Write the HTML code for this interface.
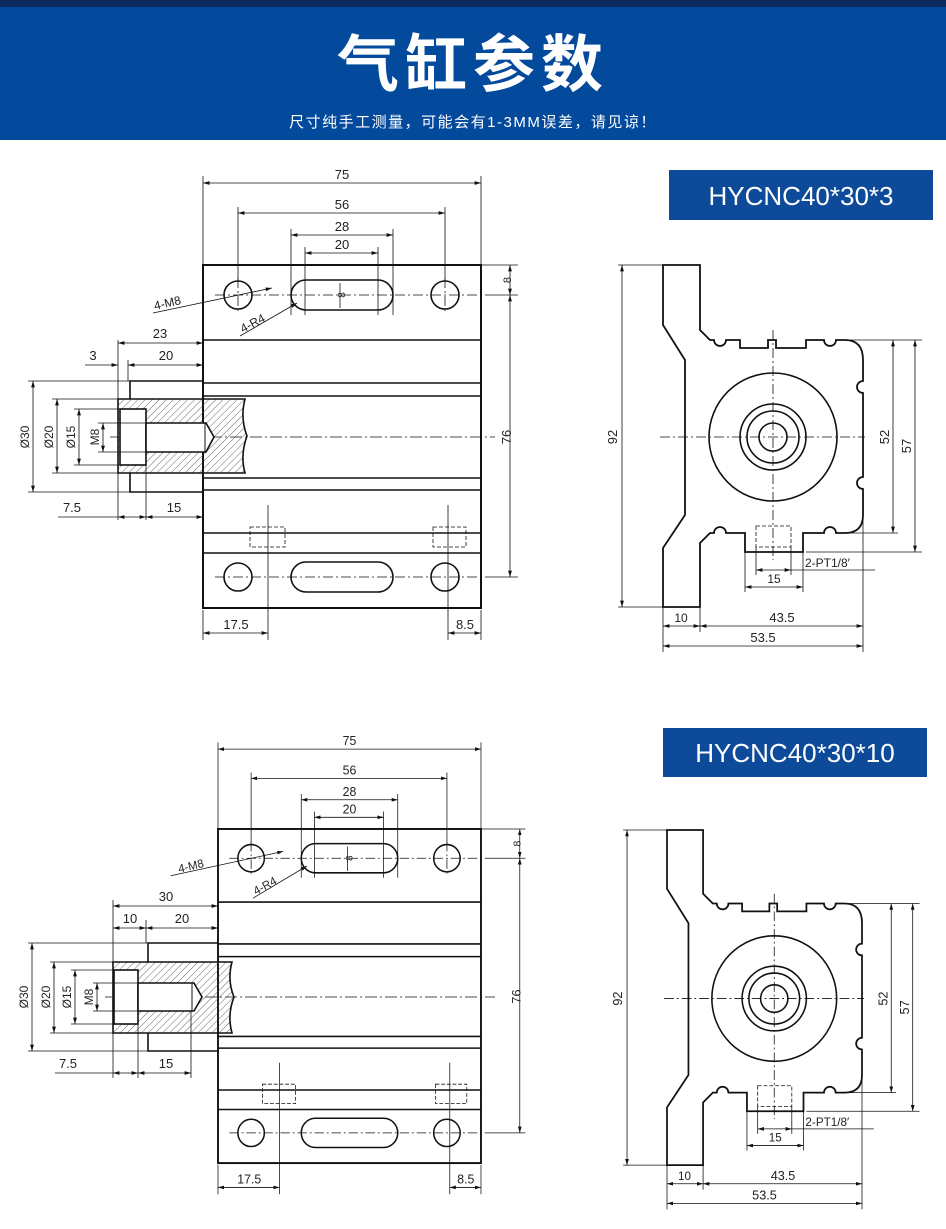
<!DOCTYPE html>
<html><head><meta charset="utf-8"><style>
html,body{margin:0;padding:0;background:#fff;}
body{width:946px;height:1229px;position:relative;overflow:hidden;font-family:"Liberation Sans","Noto Sans CJK SC",sans-serif;}
.hdr{position:absolute;left:0;top:0;width:946px;height:140px;background:#03499c;}
.hdr .stripe{position:absolute;left:0;top:0;width:946px;height:7px;background:#0b2a5e;}
.title{position:absolute;left:0;width:946px;top:14px;text-align:center;color:#fff;font-size:62px;font-weight:bold;letter-spacing:6px;font-family:"Noto Sans CJK SC","WenQuanYi Zen Hei",sans-serif;line-height:90px;}
.sub{position:absolute;left:0;width:946px;top:111px;text-align:center;color:#fff;font-size:15px;letter-spacing:1.5px;font-family:"Liberation Sans","Noto Sans CJK SC",sans-serif;}
.lbl{position:absolute;background:#0d4a9a;color:#fff;font-size:26px;text-align:center;font-family:"Liberation Sans",sans-serif;}
svg{position:absolute;left:0;top:0;}
</style></head><body>
<div class="hdr"><div class="stripe"></div>
<div class="title">气缸参数</div>
<div class="sub">尺寸纯手工测量，可能会有1-3MM误差，请见谅！</div></div>
<div class="lbl" style="left:669px;top:170px;width:264px;height:50px;line-height:52px;">HYCNC40*30*3</div>
<div class="lbl" style="left:663px;top:728px;width:264px;height:49px;line-height:51px;">HYCNC40*30*10</div>

<svg width="946" height="1229" viewBox="0 0 946 1229" font-family="Liberation Sans, sans-serif" font-size="13" fill="none" stroke="#111">
<defs>
<marker id="a" viewBox="0 0 10 6" refX="10" refY="3" markerWidth="8" markerHeight="5" orient="auto-start-reverse"><path d="M0,0L10,3L0,6z" fill="#111" stroke="none"/></marker>
<pattern id="h" width="5" height="5" patternUnits="userSpaceOnUse" patternTransform="rotate(45)"><line x1="0" y1="0" x2="0" y2="5" stroke="#444" stroke-width="0.8"/></pattern>
</defs>

<!-- ===== LEFT MAIN BLOCK (top) ===== -->
<g id="blockTop">
<rect x="203" y="265" width="278" height="343" stroke-width="2"/>
<g stroke-width="1.6">
<line x1="203" y1="340" x2="481" y2="340"/><line x1="203" y1="383" x2="481" y2="383"/>
<line x1="203" y1="396" x2="481" y2="396"/><line x1="203" y1="478" x2="481" y2="478"/>
<line x1="203" y1="490" x2="481" y2="490"/><line x1="203" y1="533" x2="481" y2="533"/>
<line x1="203" y1="553" x2="481" y2="553"/>
<circle cx="238" cy="295" r="14"/><circle cx="445" cy="295" r="14"/>
<circle cx="238" cy="577" r="14"/><circle cx="445" cy="577" r="14"/>
<rect x="291" y="280" width="102" height="30" rx="15"/>
<rect x="291" y="562" width="102" height="30" rx="15"/>
</g>
<g stroke-width="0.8" stroke-dasharray="10,3,2,3">
<line x1="215" y1="295" x2="490" y2="295"/><line x1="215" y1="577" x2="490" y2="577"/>
<line x1="238" y1="278" x2="238" y2="312"/><line x1="445" y1="278" x2="445" y2="312"/>
</g>
<g stroke-width="0.8" stroke-dasharray="4,2">
<rect x="250" y="527" width="35" height="20"/><rect x="433" y="527" width="33" height="20"/>
</g>
<g stroke-width="0.8">
<!-- extension lines -->
<line x1="203" y1="176" x2="203" y2="265"/><line x1="481" y1="176" x2="481" y2="265"/>
<line x1="238" y1="207" x2="238" y2="281"/><line x1="445" y1="207" x2="445" y2="281"/>
<line x1="291" y1="229" x2="291" y2="315"/><line x1="393" y1="229" x2="393" y2="315"/>
<line x1="305" y1="247" x2="305" y2="315"/><line x1="378" y1="247" x2="378" y2="315"/>
<line x1="340" y1="283" x2="340" y2="308"/>
<line x1="481" y1="265" x2="518" y2="265"/><line x1="490" y1="295" x2="518" y2="295"/><line x1="490" y1="577" x2="518" y2="577"/>
<line x1="268" y1="505" x2="268" y2="640"/><line x1="448" y1="505" x2="448" y2="640"/>
<line x1="203" y1="610" x2="203" y2="640"/><line x1="481" y1="610" x2="481" y2="640"/>
<!-- dims -->
<line x1="203" y1="183" x2="481" y2="183" marker-start="url(#a)" marker-end="url(#a)"/>
<line x1="238" y1="213" x2="445" y2="213" marker-start="url(#a)" marker-end="url(#a)"/>
<line x1="291" y1="235" x2="393" y2="235" marker-start="url(#a)" marker-end="url(#a)"/>
<line x1="305" y1="253" x2="378" y2="253" marker-start="url(#a)" marker-end="url(#a)"/>
<line x1="510" y1="265" x2="510" y2="295" marker-start="url(#a)" marker-end="url(#a)"/>
<line x1="510" y1="295" x2="510" y2="577" marker-start="url(#a)" marker-end="url(#a)"/>
<line x1="203" y1="633" x2="268" y2="633" marker-start="url(#a)" marker-end="url(#a)"/>
<line x1="448" y1="633" x2="481" y2="633" marker-start="url(#a)" marker-end="url(#a)"/>
<!-- leaders -->
<line x1="153" y1="313" x2="272" y2="288" marker-end="url(#a)"/>
<line x1="240" y1="336" x2="297" y2="303" marker-end="url(#a)"/>
</g>
<g fill="#222" stroke="none">
<text x="342" y="179" text-anchor="middle">75</text>
<text x="342" y="209" text-anchor="middle">56</text>
<text x="342" y="231" text-anchor="middle">28</text>
<text x="342" y="249" text-anchor="middle">20</text>
<text x="236" y="629" text-anchor="middle">17.5</text>
<text x="465" y="629" text-anchor="middle">8.5</text>
<text transform="translate(511,437) rotate(-90)" text-anchor="middle">76</text>
<text transform="translate(511,280) rotate(-90)" text-anchor="middle" font-size="11">8</text>
<text transform="translate(345,295) rotate(-90)" text-anchor="middle" font-size="10">8</text>
<text transform="translate(155,310) rotate(-13)" font-size="12">4-M8</text>
<text transform="translate(243,333) rotate(-28)" font-size="12">4-R4</text>
</g>
</g>

<!-- ===== ROD top ===== -->
<g>
<line x1="110" y1="437" x2="495" y2="437" stroke-width="0.8" stroke-dasharray="12,3,2,3"/>
<path d="M118,399 H245 Q240,418 247,436 Q240,455 245,473 H118 Z" fill="url(#h)" stroke-width="1.6"/>
<rect x="120" y="409" width="26" height="56" fill="#fff" stroke-width="1.6"/>
<path d="M146,423 H206 L214,437 L206,452 H146 Z" fill="#fff" stroke-width="1.6"/>
<line x1="205" y1="423" x2="205" y2="452" stroke-width="1"/>
<path d="M130,399 V381 H203 M130,473 V492 H203" stroke-width="1.6"/>
<g stroke-width="0.8">
<line x1="118" y1="340" x2="118" y2="520"/><line x1="128" y1="360" x2="128" y2="381"/>
<line x1="146" y1="465" x2="146" y2="520"/>
<line x1="118" y1="343" x2="203" y2="343" marker-start="url(#a)" marker-end="url(#a)"/>
<line x1="128" y1="365" x2="203" y2="365" marker-start="url(#a)" marker-end="url(#a)"/>
<line x1="85" y1="365" x2="118" y2="365" marker-end="url(#a)"/>
<line x1="28" y1="381" x2="130" y2="381"/><line x1="28" y1="492" x2="130" y2="492"/>
<line x1="52" y1="399" x2="118" y2="399"/><line x1="52" y1="473" x2="118" y2="473"/>
<line x1="74" y1="409" x2="120" y2="409"/><line x1="74" y1="465" x2="120" y2="465"/>
<line x1="98" y1="423" x2="146" y2="423"/><line x1="98" y1="452" x2="146" y2="452"/>
<line x1="33" y1="381" x2="33" y2="492" marker-start="url(#a)" marker-end="url(#a)"/>
<line x1="57" y1="399" x2="57" y2="473" marker-start="url(#a)" marker-end="url(#a)"/>
<line x1="79" y1="409" x2="79" y2="465" marker-start="url(#a)" marker-end="url(#a)"/>
<line x1="103" y1="423" x2="103" y2="452" marker-start="url(#a)" marker-end="url(#a)"/>
<line x1="58" y1="517" x2="118" y2="517"/>
<line x1="118" y1="517" x2="146" y2="517" marker-start="url(#a)" marker-end="url(#a)"/>
<line x1="146" y1="517" x2="203" y2="517" marker-start="url(#a)" marker-end="url(#a)"/>
</g>
<g fill="#222" stroke="none">
<text x="160" y="338" text-anchor="middle">23</text>
<text x="166" y="360" text-anchor="middle">20</text>
<text x="93" y="360" text-anchor="middle">3</text>
<text x="72" y="512" text-anchor="middle">7.5</text>
<text x="174" y="512" text-anchor="middle">15</text>
<text transform="translate(29,437) rotate(-90)" text-anchor="middle" font-size="12">Ø30</text>
<text transform="translate(53,437) rotate(-90)" text-anchor="middle" font-size="12">Ø20</text>
<text transform="translate(75,437) rotate(-90)" text-anchor="middle" font-size="12">Ø15</text>
<text transform="translate(99,437) rotate(-90)" text-anchor="middle" font-size="12">M8</text>
</g>
</g>

<!-- ===== RIGHT PROFILE (top) ===== -->
<g id="profTop">
<path d="M663,265 H700 V330 L710,340 H714 A6,6 0 1 0 726,340 H740 V348 H768 V340 H776 V348 H806 V340 H824 A6,6 0 1 0 836,340 H845 Q863,340 863,360 V381 A6,6 0 1 0 863,393 V477 A6,6 0 1 0 863,489 V515 Q863,533 845,533 H836 A6,6 0 1 0 824,533 H803 V552 H745 V533 H726 A6,6 0 1 0 714,533 H710 L700,543 V607 H663 V548 L685,515 V360 L663,325 Z" stroke-width="1.8"/>
<g stroke-width="1.6">
<circle cx="773" cy="437" r="64"/><circle cx="773" cy="437" r="33"/>
<circle cx="773" cy="437" r="26"/><circle cx="773" cy="437" r="14"/>
</g>
<g stroke-width="0.8" stroke-dasharray="10,3,2,3">
<line x1="660" y1="437" x2="865" y2="437"/><line x1="773" y1="330" x2="773" y2="560"/>
</g>
<rect x="756" y="526" width="35" height="21" stroke-width="0.8" stroke-dasharray="4,2"/>
<g stroke-width="0.8">
<line x1="618" y1="265" x2="663" y2="265"/><line x1="618" y1="607" x2="663" y2="607"/>
<line x1="622" y1="265" x2="622" y2="607" marker-start="url(#a)" marker-end="url(#a)"/>
<line x1="845" y1="340" x2="922" y2="340"/><line x1="806" y1="552" x2="922" y2="552"/>
<line x1="840" y1="533" x2="898" y2="533"/>
<line x1="893" y1="340" x2="893" y2="533" marker-start="url(#a)" marker-end="url(#a)"/>
<line x1="915" y1="340" x2="915" y2="552" marker-start="url(#a)" marker-end="url(#a)"/>
<line x1="663" y1="607" x2="663" y2="652"/><line x1="700" y1="607" x2="700" y2="632"/>
<line x1="863" y1="515" x2="863" y2="652"/>
<line x1="663" y1="626" x2="700" y2="626" marker-start="url(#a)" marker-end="url(#a)"/>
<line x1="700" y1="626" x2="863" y2="626" marker-start="url(#a)" marker-end="url(#a)"/>
<line x1="663" y1="646" x2="863" y2="646" marker-start="url(#a)" marker-end="url(#a)"/>
<line x1="745" y1="552" x2="745" y2="592"/><line x1="803" y1="552" x2="803" y2="592"/>
<line x1="756" y1="547" x2="756" y2="575"/><line x1="791" y1="547" x2="791" y2="575"/>
<line x1="745" y1="587" x2="803" y2="587" marker-start="url(#a)" marker-end="url(#a)"/>
<line x1="756" y1="570" x2="791" y2="570" marker-start="url(#a)" marker-end="url(#a)"/>
<line x1="791" y1="570" x2="875" y2="570"/>
</g>
<g fill="#222" stroke="none">
<text transform="translate(617,437) rotate(-90)" text-anchor="middle">92</text>
<text transform="translate(889,437) rotate(-90)" text-anchor="middle">52</text>
<text transform="translate(911,446) rotate(-90)" text-anchor="middle">57</text>
<text x="681" y="622" text-anchor="middle" font-size="12">10</text>
<text x="782" y="622" text-anchor="middle">43.5</text>
<text x="763" y="642" text-anchor="middle">53.5</text>
<text x="774" y="583" text-anchor="middle" font-size="12">15</text>
<text x="805" y="567" font-size="12">2-PT1/8′</text>
</g>
</g>

<!-- ===== BOTTOM LEFT BLOCK ===== -->
<g transform="translate(218,829) scale(0.946,0.974) translate(-203,-265)">
<rect x="203" y="265" width="278" height="343" stroke-width="2"/>
<g stroke-width="1.6">
<line x1="203" y1="340" x2="481" y2="340"/><line x1="203" y1="383" x2="481" y2="383"/>
<line x1="203" y1="396" x2="481" y2="396"/><line x1="203" y1="478" x2="481" y2="478"/>
<line x1="203" y1="490" x2="481" y2="490"/><line x1="203" y1="533" x2="481" y2="533"/>
<line x1="203" y1="553" x2="481" y2="553"/>
<circle cx="238" cy="295" r="14"/><circle cx="445" cy="295" r="14"/>
<circle cx="238" cy="577" r="14"/><circle cx="445" cy="577" r="14"/>
<rect x="291" y="280" width="102" height="30" rx="15"/>
<rect x="291" y="562" width="102" height="30" rx="15"/>
</g>
<g stroke-width="0.8" stroke-dasharray="10,3,2,3">
<line x1="215" y1="295" x2="490" y2="295"/><line x1="215" y1="577" x2="490" y2="577"/>
<line x1="238" y1="278" x2="238" y2="312"/><line x1="445" y1="278" x2="445" y2="312"/>
</g>
<g stroke-width="0.8" stroke-dasharray="4,2">
<rect x="250" y="527" width="35" height="20"/><rect x="433" y="527" width="33" height="20"/>
</g>
<g stroke-width="0.8">
<line x1="203" y1="176" x2="203" y2="265"/><line x1="481" y1="176" x2="481" y2="265"/>
<line x1="238" y1="207" x2="238" y2="281"/><line x1="445" y1="207" x2="445" y2="281"/>
<line x1="291" y1="229" x2="291" y2="315"/><line x1="393" y1="229" x2="393" y2="315"/>
<line x1="305" y1="247" x2="305" y2="315"/><line x1="378" y1="247" x2="378" y2="315"/>
<line x1="340" y1="283" x2="340" y2="308"/>
<line x1="481" y1="265" x2="528" y2="265"/><line x1="490" y1="295" x2="528" y2="295"/><line x1="490" y1="577" x2="528" y2="577"/>
<line x1="268" y1="505" x2="268" y2="640"/><line x1="448" y1="505" x2="448" y2="640"/>
<line x1="203" y1="610" x2="203" y2="640"/><line x1="481" y1="610" x2="481" y2="640"/>
<line x1="203" y1="183" x2="481" y2="183" marker-start="url(#a)" marker-end="url(#a)"/>
<line x1="238" y1="213" x2="445" y2="213" marker-start="url(#a)" marker-end="url(#a)"/>
<line x1="291" y1="235" x2="393" y2="235" marker-start="url(#a)" marker-end="url(#a)"/>
<line x1="305" y1="253" x2="378" y2="253" marker-start="url(#a)" marker-end="url(#a)"/>
<line x1="522" y1="265" x2="522" y2="295" marker-start="url(#a)" marker-end="url(#a)"/>
<line x1="522" y1="295" x2="522" y2="577" marker-start="url(#a)" marker-end="url(#a)"/>
<line x1="203" y1="633" x2="268" y2="633" marker-start="url(#a)" marker-end="url(#a)"/>
<line x1="448" y1="633" x2="481" y2="633" marker-start="url(#a)" marker-end="url(#a)"/>
<line x1="153" y1="313" x2="272" y2="288" marker-end="url(#a)"/>
<line x1="240" y1="336" x2="297" y2="303" marker-end="url(#a)"/>
</g>
<g fill="#222" stroke="none">
<text x="342" y="179" text-anchor="middle">75</text>
<text x="342" y="209" text-anchor="middle">56</text>
<text x="342" y="231" text-anchor="middle">28</text>
<text x="342" y="249" text-anchor="middle">20</text>
<text x="236" y="629" text-anchor="middle">17.5</text>
<text x="465" y="629" text-anchor="middle">8.5</text>
<text transform="translate(523,437) rotate(-90)" text-anchor="middle">76</text>
<text transform="translate(523,280) rotate(-90)" text-anchor="middle" font-size="11">8</text>
<text transform="translate(345,295) rotate(-90)" text-anchor="middle" font-size="10">8</text>
<text transform="translate(162,310) rotate(-13)" font-size="12">4-M8</text>
<text transform="translate(243,333) rotate(-28)" font-size="12">4-R4</text>
</g>
</g>

<!-- ===== ROD bottom ===== -->
<g>
<line x1="105" y1="997" x2="495" y2="997" stroke-width="0.8" stroke-dasharray="12,3,2,3"/>
<path d="M113,962 H232 Q227,980 234,997 Q227,1015 232,1033 H113 Z" fill="url(#h)" stroke-width="1.6"/>
<rect x="114" y="970" width="24" height="54" fill="#fff" stroke-width="1.6"/>
<path d="M138,983 H194 L202,997 L194,1011 H138 Z" fill="#fff" stroke-width="1.6"/>
<line x1="192" y1="983" x2="192" y2="1011" stroke-width="1"/>
<path d="M148,962 V943 H218 M148,1033 V1051 H218" stroke-width="1.6"/>
<g stroke-width="0.8">
<line x1="113" y1="900" x2="113" y2="1078"/><line x1="146" y1="920" x2="146" y2="943"/>
<line x1="138" y1="1024" x2="138" y2="1078"/><line x1="191" y1="1011" x2="191" y2="1078"/>
<line x1="113" y1="906" x2="218" y2="906" marker-start="url(#a)" marker-end="url(#a)"/>
<line x1="113" y1="928" x2="146" y2="928" marker-start="url(#a)" marker-end="url(#a)"/>
<line x1="146" y1="928" x2="218" y2="928" marker-start="url(#a)" marker-end="url(#a)"/>
<line x1="28" y1="943" x2="148" y2="943"/><line x1="28" y1="1051" x2="148" y2="1051"/>
<line x1="50" y1="962" x2="113" y2="962"/><line x1="50" y1="1033" x2="113" y2="1033"/>
<line x1="71" y1="970" x2="114" y2="970"/><line x1="71" y1="1024" x2="114" y2="1024"/>
<line x1="93" y1="983" x2="138" y2="983"/><line x1="93" y1="1011" x2="138" y2="1011"/>
<line x1="32" y1="943" x2="32" y2="1051" marker-start="url(#a)" marker-end="url(#a)"/>
<line x1="54" y1="962" x2="54" y2="1033" marker-start="url(#a)" marker-end="url(#a)"/>
<line x1="75" y1="970" x2="75" y2="1024" marker-start="url(#a)" marker-end="url(#a)"/>
<line x1="97" y1="983" x2="97" y2="1011" marker-start="url(#a)" marker-end="url(#a)"/>
<line x1="55" y1="1073" x2="113" y2="1073"/>
<line x1="113" y1="1073" x2="138" y2="1073" marker-start="url(#a)" marker-end="url(#a)"/>
<line x1="138" y1="1073" x2="191" y2="1073" marker-start="url(#a)" marker-end="url(#a)"/>
</g>
<g fill="#222" stroke="none">
<text x="166" y="901" text-anchor="middle">30</text>
<text x="130" y="923" text-anchor="middle">10</text>
<text x="182" y="923" text-anchor="middle">20</text>
<text x="68" y="1068" text-anchor="middle">7.5</text>
<text x="166" y="1068" text-anchor="middle">15</text>
<text transform="translate(28,997) rotate(-90)" text-anchor="middle" font-size="12">Ø30</text>
<text transform="translate(50,997) rotate(-90)" text-anchor="middle" font-size="12">Ø20</text>
<text transform="translate(71,997) rotate(-90)" text-anchor="middle" font-size="12">Ø15</text>
<text transform="translate(93,997) rotate(-90)" text-anchor="middle" font-size="12">M8</text>
</g>
</g>

<!-- ===== RIGHT PROFILE (bottom) ===== -->
<g transform="translate(667,830) scale(0.975,0.98) translate(-663,-265)">
<path d="M663,265 H700 V330 L710,340 H714 A6,6 0 1 0 726,340 H740 V348 H768 V340 H776 V348 H806 V340 H824 A6,6 0 1 0 836,340 H845 Q863,340 863,360 V381 A6,6 0 1 0 863,393 V477 A6,6 0 1 0 863,489 V515 Q863,533 845,533 H836 A6,6 0 1 0 824,533 H803 V552 H745 V533 H726 A6,6 0 1 0 714,533 H710 L700,543 V607 H663 V548 L685,515 V360 L663,325 Z" stroke-width="1.8"/>
<g stroke-width="1.6">
<circle cx="773" cy="437" r="64"/><circle cx="773" cy="437" r="33"/>
<circle cx="773" cy="437" r="26"/><circle cx="773" cy="437" r="14"/>
</g>
<g stroke-width="0.8" stroke-dasharray="10,3,2,3">
<line x1="660" y1="437" x2="865" y2="437"/><line x1="773" y1="330" x2="773" y2="560"/>
</g>
<rect x="756" y="526" width="35" height="21" stroke-width="0.8" stroke-dasharray="4,2"/>
<g stroke-width="0.8">
<line x1="618" y1="265" x2="663" y2="265"/><line x1="618" y1="607" x2="663" y2="607"/>
<line x1="622" y1="265" x2="622" y2="607" marker-start="url(#a)" marker-end="url(#a)"/>
<line x1="845" y1="340" x2="922" y2="340"/><line x1="806" y1="552" x2="922" y2="552"/>
<line x1="840" y1="533" x2="898" y2="533"/>
<line x1="893" y1="340" x2="893" y2="533" marker-start="url(#a)" marker-end="url(#a)"/>
<line x1="915" y1="340" x2="915" y2="552" marker-start="url(#a)" marker-end="url(#a)"/>
<line x1="663" y1="607" x2="663" y2="652"/><line x1="700" y1="607" x2="700" y2="632"/>
<line x1="863" y1="515" x2="863" y2="652"/>
<line x1="663" y1="626" x2="700" y2="626" marker-start="url(#a)" marker-end="url(#a)"/>
<line x1="700" y1="626" x2="863" y2="626" marker-start="url(#a)" marker-end="url(#a)"/>
<line x1="663" y1="646" x2="863" y2="646" marker-start="url(#a)" marker-end="url(#a)"/>
<line x1="745" y1="552" x2="745" y2="592"/><line x1="803" y1="552" x2="803" y2="592"/>
<line x1="756" y1="547" x2="756" y2="575"/><line x1="791" y1="547" x2="791" y2="575"/>
<line x1="745" y1="587" x2="803" y2="587" marker-start="url(#a)" marker-end="url(#a)"/>
<line x1="756" y1="570" x2="791" y2="570" marker-start="url(#a)" marker-end="url(#a)"/>
<line x1="791" y1="570" x2="875" y2="570"/>
</g>
<g fill="#222" stroke="none">
<text transform="translate(617,437) rotate(-90)" text-anchor="middle">92</text>
<text transform="translate(889,437) rotate(-90)" text-anchor="middle">52</text>
<text transform="translate(911,446) rotate(-90)" text-anchor="middle">57</text>
<text x="681" y="622" text-anchor="middle" font-size="12">10</text>
<text x="782" y="622" text-anchor="middle">43.5</text>
<text x="763" y="642" text-anchor="middle">53.5</text>
<text x="774" y="583" text-anchor="middle" font-size="12">15</text>
<text x="805" y="567" font-size="12">2-PT1/8′</text>
</g>
</g>
</svg>
</body></html>
